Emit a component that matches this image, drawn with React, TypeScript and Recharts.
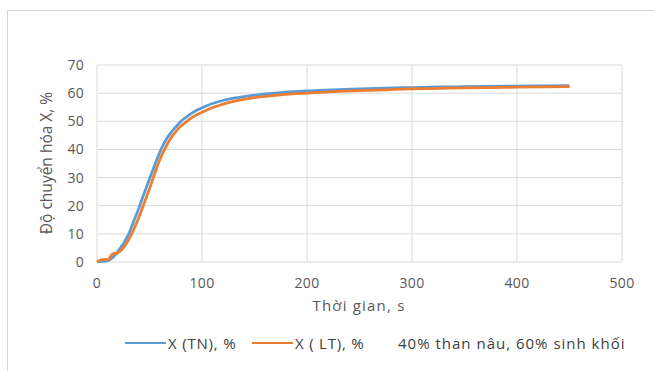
import React from "react";
import { LineChart, Line, XAxis, YAxis, CartesianGrid } from "recharts";

// thời gian (s)
const time = [0, 5, 10, 15, 20, 25, 30, 35, 40, 45, 50, 55, 60, 65, 70, 75, 80, 85, 90, 95, 100, 110, 120, 130, 140, 150, 175, 200, 225, 250, 275, 300, 325, 350, 375, 400, 425, 450];
// X (TN), %
const xTN = [0, 0.2, 0.4, 1.6, 3.8, 6.5, 9.8, 14.5, 19.3, 24.5, 29.5, 34.5, 39.2, 43, 45.8, 48, 50, 51.5, 52.8, 53.9, 54.8, 56.3, 57.4, 58.2, 58.8, 59.3, 60.2, 60.8, 61.2, 61.5, 61.8, 62.0, 62.2, 62.3, 62.4, 62.5, 62.6, 62.7];
// X ( LT), %
const xLT = [0, 0.8, 0.8, 2.9, 3.3, 5, 7.8, 11.6, 16, 21, 26, 31.5, 36.5, 40.5, 43.8, 46.3, 48.3, 49.8, 51.2, 52.3, 53.2, 54.9, 56.1, 57.1, 57.8, 58.4, 59.4, 60.0, 60.5, 60.9, 61.2, 61.5, 61.7, 61.9, 62.0, 62.1, 62.2, 62.3];

const xTicks = [0, 100, 200, 300, 400, 500];
const yTicks = [0, 10, 20, 30, 40, 50, 60, 70];

const series = [
  { key: "tn", name: "X (TN), %", color: "#5b9bd5" },
  { key: "lt", name: "X ( LT), %", color: "#ed7d31" },
];
const note = "40% than nâu, 60% sinh khối";

const data = time.map((t, i) => ({ t, tn: xTN[i], lt: xLT[i] }));

const FONT = "'Open Sans', sans-serif";
const TEXT = "#595959";

// vị trí các mục chú thích
const legendLeft = [125, 252];

export default function App() {
  return (
    <div style={{ position: "absolute", left: 0, top: 0, width: 654, height: 371, overflow: "hidden", background: "#fff", fontFamily: FONT }}>
      {/* khung ngoài */}
      <div style={{ position: "absolute", left: 7, top: 10, width: 700, height: 420, border: "1px solid #d9d9d9" }} />
      <div style={{ position: "absolute", left: 0, top: 0 }}>
        <LineChart width={654} height={371} data={data} margin={{ top: 65, right: 32, bottom: 59, left: 0 }}>
          <CartesianGrid stroke="#d9d9d9" strokeWidth={1} />
          <XAxis
            dataKey="t"
            type="number"
            domain={[0, 500]}
            ticks={xTicks}
            axisLine={false}
            tickLine={false}
            tickSize={0}
            tickMargin={16}
            height={50}
            tick={{ fill: TEXT, fontSize: 14, fontFamily: FONT, letterSpacing: 0.3 }}
            label={{
              content: () => (
                <text x={359} y={311} textAnchor="middle" fill={TEXT} fontSize={15} fontFamily={FONT} letterSpacing={1.2}>
                  Thời gian, s
                </text>
              ),
            }}
          />
          <YAxis
            type="number"
            domain={[0, 70]}
            ticks={yTicks}
            width={97}
            axisLine={false}
            tickLine={false}
            tickSize={0}
            tickMargin={13}
            tick={{ fill: TEXT, fontSize: 14, fontFamily: FONT, letterSpacing: 0.3 }}
            label={{
              content: () => (
                <text x={46} y={163} transform="rotate(-90 46 163)" textAnchor="middle" dominantBaseline="central" fill={TEXT} fontSize={15.5} fontFamily={FONT}>
                  Độ chuyển hóa X, %
                </text>
              ),
            }}
          />
          {series.map((s) => (
            <Line key={s.key} type="monotone" dataKey={s.key} name={s.name} stroke={s.color} strokeWidth={2.75} dot={false} isAnimationActive={false} />
          ))}
        </LineChart>
      </div>
      {/* chú thích */}
      {series.map((s, i) => (
        <div key={s.key} style={{ position: "absolute", left: legendLeft[i], top: 333, height: 20, display: "flex", alignItems: "center", fontSize: 15, letterSpacing: 0.8, color: "#404040", whiteSpace: "nowrap" }}>
          <span style={{ display: "inline-block", width: 41, height: 2.5, background: s.color, marginRight: 2 }} />
          <span>{s.name}</span>
        </div>
      ))}
      <div style={{ position: "absolute", left: 398, top: 333, height: 20, display: "flex", alignItems: "center", fontSize: 15, letterSpacing: 1, color: "#404040", whiteSpace: "nowrap" }}>
        {note}
      </div>
    </div>
  );
}
